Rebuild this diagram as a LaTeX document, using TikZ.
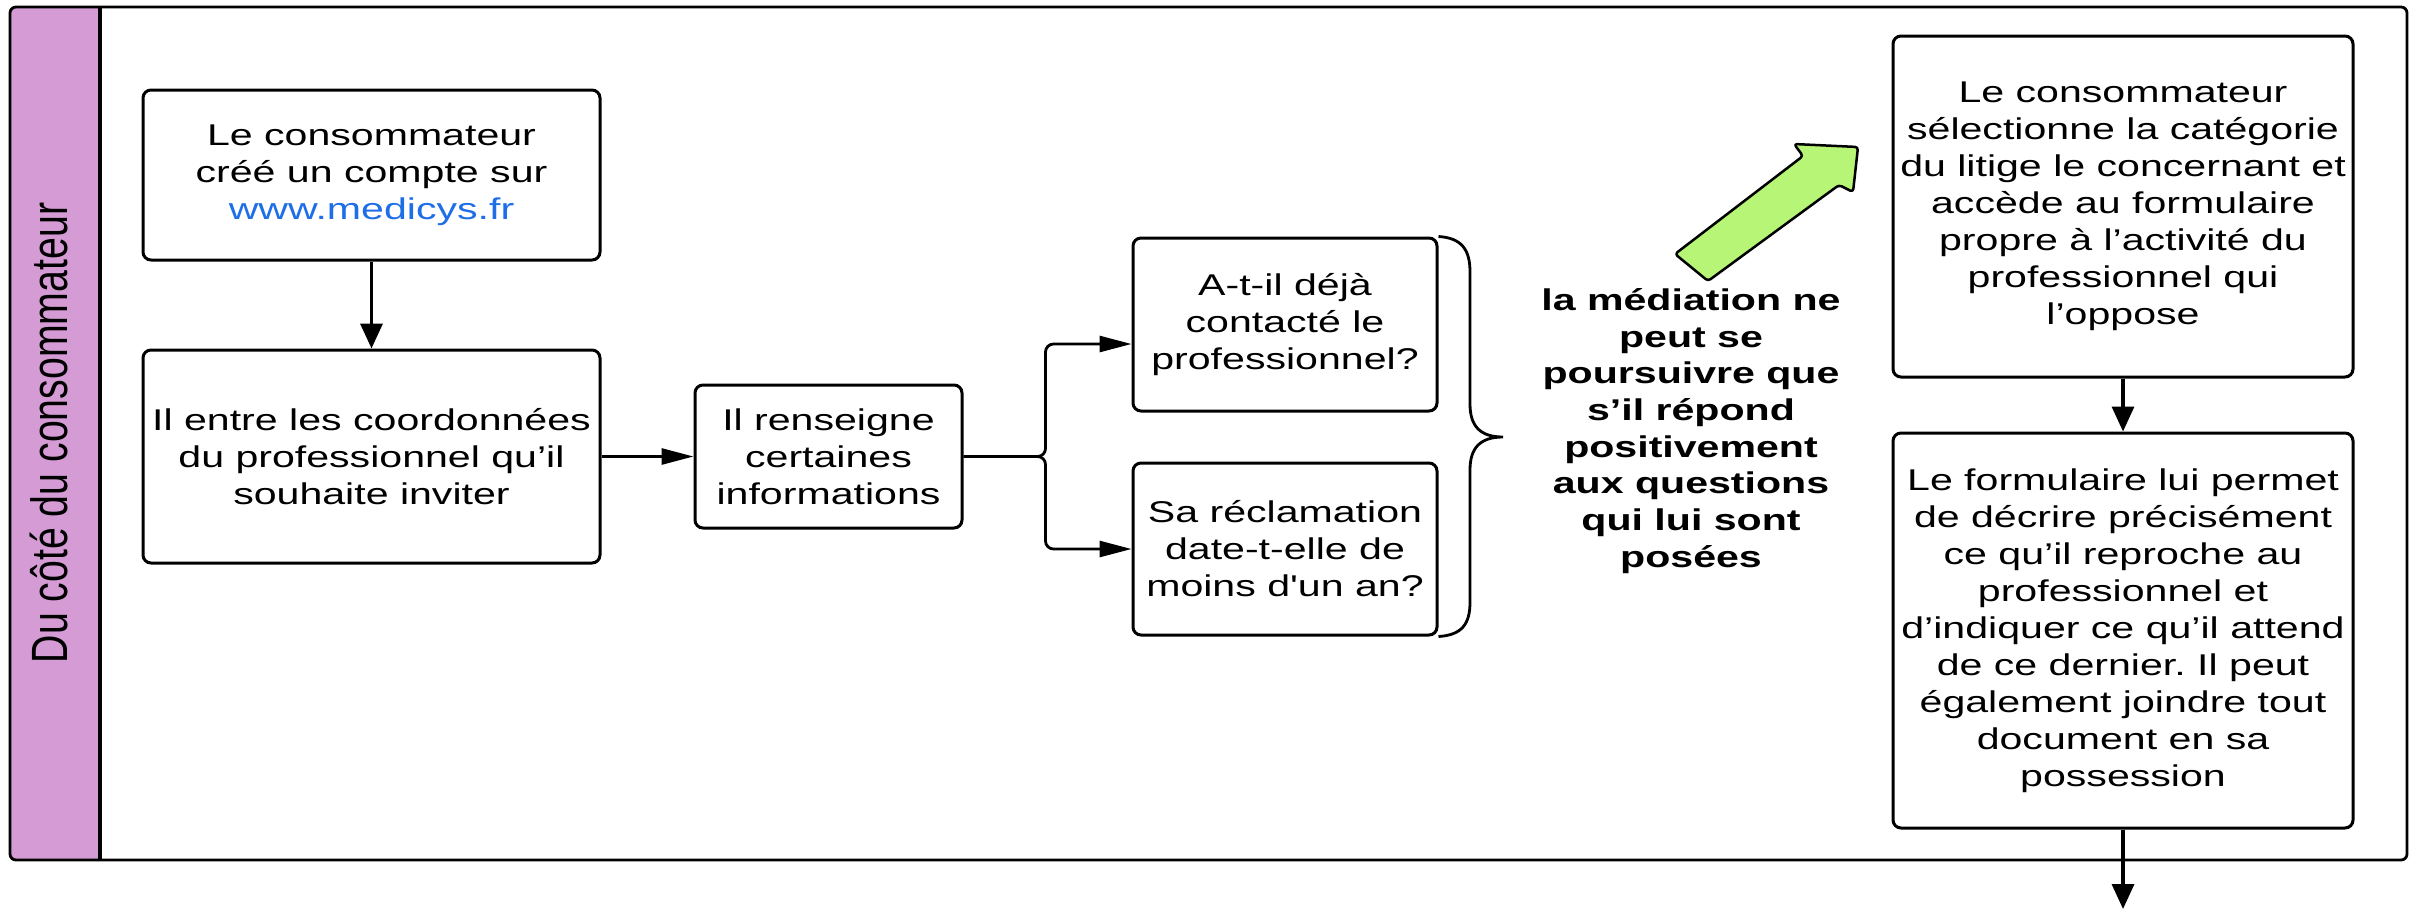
\documentclass[tikz,border=0pt]{standalone}
\usepackage{fontspec}
\usepackage{graphicx}
\usetikzlibrary{arrows.meta}
\newfontfamily\boxfont[FakeStretch=1.37]{Liberation Sans}
\newfontfamily\lanefont[FakeStretch=0.77]{Liberation Sans}
\definecolor{lanepurple}{RGB}{213,155,213}
\definecolor{hintgreen}{RGB}{182,245,118}
\definecolor{linkblue}{RGB}{30,110,232}
\frenchspacing

\begin{document}
\begin{tikzpicture}[x=1pt,y=-1pt,
  stepbox/.style={draw, line width=3pt, rounded corners=8pt, align=center, inner sep=0pt,
    font={\boxfont\fontsize{30}{37}\selectfont}},
  note/.style={align=center, inner sep=0pt, font={\boxfont\bfseries\fontsize{30}{36.7}\selectfont}},
  vflow/.style={line width=3.5pt, -{Triangle[length=25pt,width=22pt]}},
  hflow/.style={line width=2.8pt, -{Triangle[length=32pt,width=16pt]}},
  hint/.style={draw, line width=2.5pt, fill=hintgreen, rounded corners=3pt, line join=round}]
\useasboundingbox (0,0) rectangle (2417,911);

% lane
\begin{scope}
\clip[rounded corners=6pt] (10,7) rectangle (2407,860);
\fill[lanepurple] (10,7) rectangle (100,860);
\end{scope}
\draw[line width=2.8pt, rounded corners=6pt] (10,7) rectangle (2407,860);
\draw[line width=3.5pt] (100,7) -- (100,860);
\node[rotate=90, font={\lanefont\fontsize{51}{51}\selectfont}] (lane) at (49,433) {Du côté du consommateur};

% steps
\node[stepbox, minimum width=457pt, minimum height=170pt] (create) at (371.5,175)
  {Le consommateur\\créé un compte sur\\\textcolor{linkblue}{www.medicys.fr}};
\node[stepbox, minimum width=457pt, minimum height=213pt] (coords) at (371.5,456.5)
  {Il entre les coordonnées\\du professionnel qu’il\\souhaite inviter};
\node[stepbox, minimum width=267pt, minimum height=143pt] (infos) at (828.5,456.5)
  {Il renseigne\\certaines\\informations};
\node[stepbox, minimum width=304pt, minimum height=173pt] (contact) at (1285,324.5)
  {A-t-il déjà\\contacté le\\professionnel?};
\node[stepbox, minimum width=304pt, minimum height=172pt] (delay) at (1285,549)
  {Sa réclamation\\date-t-elle de\\moins d'un an?};
\node[note] (rule) at (1691,431)
  {la médiation ne\\peut se\\poursuivre que\\s’il répond\\positivement\\aux questions\\qui lui sont\\posées};
\node[stepbox, minimum width=460pt, minimum height=341pt] (category) at (2123,206.5)
  {Le consommateur\\sélectionne la catégorie\\du litige le concernant et\\accède au formulaire\\propre à l’activité du\\professionnel qui\\l’oppose};
\node[stepbox, minimum width=460pt, minimum height=395pt] (form) at (2123,630.5)
  {Le formulaire lui permet\\de décrire précisément\\ce qu’il reproche au\\professionnel et\\d’indiquer ce qu’il attend\\de ce dernier. Il peut\\également joindre tout\\document en sa\\possession};
\coordinate (next) at (2123,909);

% connectors
\draw[vflow] (create) -- (coords);
\draw[hflow] (coords) -- (infos);
\draw[hflow, rounded corners=8pt] (infos.east) -- ++(82,0) |- ([yshift=-19.5pt]contact.west);
\draw[hflow, rounded corners=8pt] (infos.east) -- ++(82,0) |- (delay.west);
\draw[vflow] (category) -- (form);
\draw[vflow] (form) -- (next);

% brace
\draw[line width=2.8pt] (contact.north east) .. controls (1462,238) and (1470,250) .. (1470,272)
  -- (1470,404) .. controls (1470,426) and (1480,437) .. (1503,437)
  .. controls (1480,437) and (1470,448) .. (1470,470)
  -- (1470,602) .. controls (1470,624) and (1462,635) .. (delay.south east);

% green arrow
\draw[hint] (1675,254) -- (1708,281) -- (1839,185) -- (1853,192) -- (1858,147)
  -- (1794,144) -- (1803,156) -- cycle;
\end{tikzpicture}
\end{document}
